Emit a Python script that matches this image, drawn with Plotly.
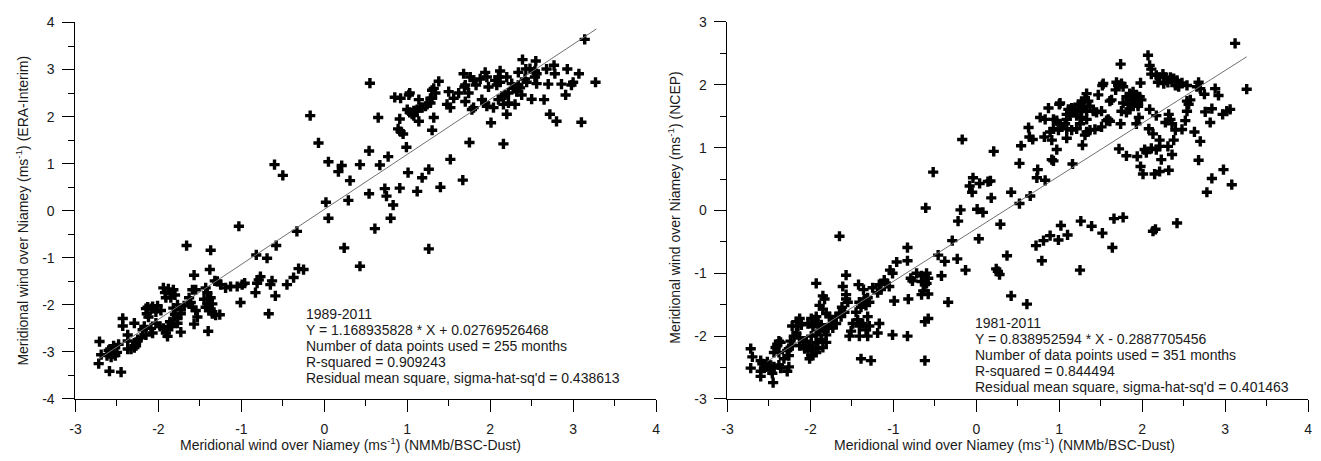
import plotly.graph_objects as go

W, H = 1321, 461

# Monthly meridional wind over Niamey: NMMb/BSC-Dust (x) vs ERA-Interim (y), 1989-2011
era_pairs = [
    (3.14, 3.64), (2.39, 3.21), (2.55, 3.18), (2.77, 3.09), (2.68, 3.01), (2.93, 3.01), (3.07, 2.91),
    (3.27, 2.73), (2.78, 2.91), (2.86, 2.69), (3.00, 2.73), (2.98, 2.67), (2.70, 2.69), (2.56, 2.70),
    (2.56, 2.91), (2.54, 2.97), (2.48, 3.02), (2.43, 3.01), (2.34, 2.94), (2.12, 2.97), (2.20, 2.84),
    (2.10, 2.84), (2.06, 2.77), (2.12, 2.73), (1.94, 2.94), (1.96, 2.84), (1.88, 2.80), (1.83, 2.67),
    (1.68, 2.91), (1.76, 2.84), (1.80, 2.77), (1.70, 2.67), (1.98, 2.63), (2.08, 2.67), (2.26, 2.70),
    (2.28, 2.60), (2.22, 2.50), (2.32, 2.53), (2.36, 2.61), (2.38, 2.46), (2.44, 2.73), (2.50, 2.37),
    (2.65, 2.36), (2.91, 2.46), (2.72, 2.05), (2.80, 1.90), (3.10, 1.88), (2.20, 2.05), (2.01, 1.87),
    (2.30, 2.26), (2.22, 2.29), (2.16, 2.26), (2.10, 2.36), (2.14, 2.43), (2.18, 2.46), (2.04, 2.19),
    (1.96, 2.22), (1.94, 2.29), (1.90, 2.36), (1.80, 2.19), (1.78, 2.15), (1.70, 2.32), (1.74, 2.50),
    (1.69, 2.63), (1.62, 2.50), (1.56, 2.39), (1.52, 2.19), (1.48, 2.26), (1.50, 2.53), (1.38, 2.75),
    (1.32, 2.60), (1.34, 2.50), (1.30, 2.39), (1.28, 2.29), (1.24, 2.26), (1.18, 2.19), (1.14, 2.36),
    (1.12, 2.15), (1.08, 2.12), (1.06, 2.05), (1.02, 2.46), (1.03, 2.09), (1.00, 2.15), (0.92, 2.39),
    (0.85, 2.41), (1.14, 1.90), (1.32, 1.98), (1.30, 1.71), (0.91, 1.95), (0.65, 1.98), (0.89, 1.74),
    (0.92, 1.68), (0.95, 1.63), (0.99, 1.35), (0.55, 2.71), (1.75, 1.45), (2.16, 1.42), (1.52, 1.09),
    (1.26, 0.88), (1.18, 0.70), (1.01, 0.81), (1.40, 0.50), (1.67, 0.65), (0.91, 0.48), (0.73, 0.47),
    (0.75, 0.31), (1.12, 0.41), (0.83, 0.12), (0.80, -0.16), (0.54, 0.36), (0.29, 0.22), (0.31, 0.64),
    (0.54, 1.27), (0.77, 1.15), (0.67, 0.97), (0.43, 0.98), (0.21, 0.96), (0.17, 0.83), (0.05, 1.04),
    (0.02, 0.18), (0.05, -0.16), (0.61, -0.38), (1.03, 2.50), (1.16, 2.19), (1.10, 2.12), (1.08, 2.02),
    (1.22, 2.22), (1.30, 2.56), (1.28, 2.39), (2.34, 2.67), (2.42, 2.80), (2.54, 2.84),
    (-0.17, 2.02), (-0.07, 1.44), (-0.60, 0.98), (-0.50, 0.75), (-1.03, -0.33), (0.24, -0.79),
    (1.26, -0.81), (0.43, -1.18),
    (-0.33, -0.44), (-0.58, -0.74), (-1.66, -0.74), (-1.37, -0.84), (-0.82, -0.94), (-0.69, -1.01),
    (-1.38, -1.25), (-1.57, -1.37), (-0.25, -1.25), (-0.31, -1.23), (-0.37, -1.42), (-0.45, -1.57),
    (-0.63, -1.49), (-0.65, -1.57), (-0.77, -1.40), (-0.79, -1.47), (-0.81, -1.54), (-0.96, -1.54),
    (-1.05, -1.61), (-0.99, -1.57), (-1.13, -1.61), (-1.19, -1.64), (-1.25, -1.57), (-1.29, -1.50),
    (-1.32, -1.49), (-0.83, -1.74), (-0.59, -1.81), (-1.01, -1.95), (-0.67, -2.19), (-1.43, -1.64),
    (-1.41, -1.74), (-1.37, -1.85), (-1.45, -1.88), (-1.41, -1.98), (-1.43, -2.05), (-1.39, -2.12),
    (-1.35, -2.19), (-1.31, -2.22), (-1.26, -2.21), (-1.35, -1.98), (-1.37, -2.09), (-1.40, -2.56),
    (-1.59, -1.68), (-1.55, -1.68), (-1.63, -1.85), (-1.61, -1.95), (-1.59, -2.05), (-1.55, -2.12),
    (-1.53, -2.26), (-1.57, -2.41), (-1.94, -1.64), (-1.88, -1.66), (-1.82, -1.68), (-1.92, -1.74),
    (-1.86, -1.76), (-1.80, -1.79), (-1.91, -1.85), (-1.85, -1.85), (-1.69, -2.02), (-1.73, -2.11),
    (-1.77, -2.00), (-1.82, -2.07), (-1.73, -2.19), (-1.80, -2.20), (-1.77, -2.29), (-1.82, -2.32),
    (-1.86, -2.36), (-1.88, -2.46), (-1.84, -2.46), (-1.77, -2.39), (-1.73, -2.58), (-1.91, -2.60),
    (-1.94, -2.50), (-1.89, -2.67), (-1.98, -2.46), (-2.13, -2.05), (-2.07, -2.04), (-2.01, -2.02),
    (-1.97, -2.12), (-2.03, -2.15), (-2.09, -2.08), (-2.14, -2.19), (-2.12, -2.26), (-2.15, -2.08),
    (-2.03, -2.39), (-2.09, -2.50), (-2.07, -2.60), (-2.15, -2.64), (-2.19, -2.53), (-2.21, -2.70),
    (-2.25, -2.74), (-2.27, -2.80), (-2.29, -2.91), (-2.33, -2.94), (-2.29, -2.39), (-2.17, -2.46),
    (-2.43, -2.29), (-2.43, -2.45), (-2.37, -2.64), (-2.37, -2.77), (-2.27, -2.87), (-2.37, -2.94),
    (-2.48, -2.84), (-2.54, -2.87), (-2.58, -2.94), (-2.56, -3.04), (-2.62, -3.08), (-2.50, -3.01),
    (-2.60, -2.97), (-2.71, -2.78), (-2.69, -3.06), (-2.72, -3.25), (-2.59, -3.41), (-2.45, -3.43),
    (-2.57, -3.11), (-2.52, -3.08),
]

# Monthly meridional wind over Niamey: NMMb/BSC-Dust (x) vs NCEP (y), 1981-2011
ncep_pairs = [
    (3.12, 2.66), (3.26, 1.93), (2.07, 2.47), (2.09, 2.31), (2.11, 2.25), (2.11, 2.17), (2.17, 2.15),
    (2.21, 2.12), (2.25, 2.17), (2.28, 2.12), (2.34, 2.12), (2.38, 2.10), (2.42, 2.07), (2.19, 2.04),
    (2.26, 2.02), (2.31, 2.04), (2.40, 1.99), (2.44, 1.97), (2.54, 1.99), (2.48, 2.03), (2.68, 2.04),
    (2.66, 1.97), (2.70, 1.94), (2.75, 1.85), (2.88, 1.94), (2.92, 1.83), (1.74, 2.33), (1.53, 2.02),
    (1.52, 1.99), (1.69, 2.04), (1.71, 1.99), (1.75, 2.02), (1.77, 1.97), (1.68, 1.92), (1.98, 2.03),
    (1.85, 1.86), (1.89, 1.89), (1.93, 1.84), (1.97, 1.81), (1.81, 1.81), (1.87, 1.76), (1.91, 1.74),
    (1.95, 1.69), (1.99, 1.76), (1.77, 1.71), (1.83, 1.69), (1.89, 1.66), (1.75, 1.58), (1.81, 1.56),
    (1.85, 1.61), (1.95, 1.66), (1.61, 1.74), (1.63, 1.76), (1.59, 1.45), (1.61, 1.42), (1.57, 1.43),
    (1.74, 1.38), (1.96, 1.48), (1.93, 1.38), (2.09, 1.61), (2.17, 1.51), (1.47, 1.84), (1.33, 1.86),
    (1.31, 1.79), (1.35, 1.74), (1.27, 1.71), (1.23, 1.69), (1.29, 1.63), (1.33, 1.58), (1.25, 1.58),
    (1.19, 1.61), (1.15, 1.63), (1.11, 1.61), (1.17, 1.56), (1.13, 1.51), (1.09, 1.53), (1.21, 1.51),
    (1.27, 1.48), (1.33, 1.45), (1.41, 1.58), (1.45, 1.56), (1.51, 1.58), (1.37, 1.66), (1.01, 1.71),
    (1.00, 1.69), (0.87, 1.63), (0.77, 1.48), (0.83, 1.45), (0.93, 1.45), (0.97, 1.43), (1.01, 1.38),
    (1.07, 1.38), (1.09, 1.45), (0.89, 1.25), (0.93, 1.30), (0.99, 1.28), (1.03, 1.33), (1.09, 1.30),
    (1.15, 1.28), (1.21, 1.30), (1.25, 1.38), (1.33, 1.25), (1.31, 1.20), (1.37, 1.28), (1.43, 1.29),
    (1.51, 1.33), (0.63, 1.32), (0.64, 1.17), (0.68, 1.13), (0.82, 1.17), (0.91, 1.12), (0.97, 0.97),
    (1.09, 1.15), (1.28, 1.04), (0.54, 1.03), (0.21, 0.94), (0.52, 0.75), (0.74, 0.65), (0.73, 0.52),
    (0.83, 0.48), (0.91, 0.81), (0.93, 0.79), (1.16, 0.74), (0.17, 0.47), (0.18, 0.20), (0.42, 0.29),
    (0.52, 0.11), (0.65, 0.23), (0.29, -0.22),
    (2.08, 1.30), (2.13, 1.22), (2.03, 0.97), (2.11, 0.99), (2.17, 0.97), (2.21, 1.02), (2.31, 1.02),
    (2.28, 1.40), (2.34, 1.45), (2.32, 1.53), (2.36, 1.38), (2.40, 1.28), (2.48, 1.29), (2.52, 1.43),
    (2.54, 1.58), (2.56, 1.69), (2.54, 1.74), (2.58, 1.76), (2.63, 1.25), (2.70, 1.10), (2.76, 1.57),
    (2.84, 1.62), (2.82, 1.40), (2.97, 1.53), (3.02, 1.58), (3.06, 1.61), (2.38, 1.12), (2.21, 1.12),
    (2.23, 0.81), (2.36, 0.89), (2.68, 0.80), (1.98, 0.70), (2.01, 0.58), (2.15, 0.58), (2.21, 0.62),
    (2.32, 0.64), (2.98, 0.65), (2.84, 0.51), (3.08, 0.41), (2.78, 0.29), (1.72, 0.98), (1.81, 0.87),
    (1.94, 0.86), (2.05, 0.92),
    (1.02, -0.24), (1.26, -0.17), (1.39, -0.25), (1.66, -0.13), (1.77, -0.11), (2.16, -0.30),
    (2.42, -0.20), (1.52, -0.36), (1.64, -0.59), (2.13, -0.33), (0.72, -0.56), (0.81, -0.48),
    (0.89, -0.40), (0.99, -0.47), (1.10, -0.39), (0.79, -0.80), (1.25, -0.95), (0.37, -0.72),
    (0.24, -0.93), (0.26, -0.97), (0.28, -1.02), (0.42, -1.36), (0.61, -1.49),
    (-0.17, 1.13), (-0.52, 0.61), (-0.04, 0.52), (-0.08, 0.39), (-0.05, 0.29), (0.04, 0.43),
    (0.14, 0.46), (-0.61, 0.04), (-0.19, 0.01), (0.01, 0.02), (0.08, -0.03), (-0.22, -0.17),
    (0.03, -0.45), (-0.29, -0.48), (-0.23, -0.77), (-0.46, -0.71), (-0.38, -0.81), (-0.13, -0.95),
    (-0.42, -1.04), (-0.34, -1.46), (-1.65, -0.41), (-0.83, -0.59), (-0.83, -0.80), (-0.96, -0.82),
    (-1.04, -0.95), (-1.01, -1.00), (-0.72, -1.00), (-0.66, -1.04), (-0.79, -1.08), (-0.77, -1.12),
    (-0.60, -1.00), (-0.58, -1.08), (-0.66, -1.13), (-0.62, -1.18), (-0.60, -1.16), (-0.64, -1.28),
    (-0.58, -1.33), (-0.66, -1.34), (-0.58, -1.72), (-0.62, -1.77), (-0.82, -1.41), (-0.99, -1.44),
    (-0.83, -2.00), (-1.01, -1.98), (-0.62, -2.39),
    (-1.11, -1.11), (-1.17, -1.18), (-1.15, -1.26), (-1.05, -1.21), (-1.09, -1.16), (-1.19, -1.31),
    (-1.25, -1.23), (-1.31, -1.39), (-1.35, -1.41), (-1.29, -1.46), (-1.41, -1.46), (-1.39, -1.54),
    (-1.45, -1.62), (-1.33, -1.51), (-1.42, -1.18), (-1.36, -1.26), (-1.57, -1.03), (-1.61, -1.21),
    (-1.57, -1.34), (-1.57, -1.41), (-1.55, -1.46), (-1.62, -1.54), (-1.59, -1.62), (-1.65, -1.64),
    (-1.69, -1.69), (-1.63, -1.69), (-1.17, -1.80), (-1.19, -1.95), (-1.31, -1.69), (-1.29, -1.84),
    (-1.33, -1.90), (-1.37, -1.80), (-1.41, -1.84), (-1.43, -1.74), (-1.49, -1.80), (-1.51, -1.92),
    (-1.53, -2.00), (-1.41, -2.00), (-1.31, -2.00), (-1.39, -2.36), (-1.27, -2.39),
    (-1.93, -1.16), (-1.85, -1.36), (-1.83, -1.41), (-1.89, -1.51), (-1.85, -1.57), (-1.93, -1.69),
    (-1.95, -1.74), (-1.99, -1.72), (-2.03, -1.80), (-1.97, -1.85), (-1.91, -1.80), (-1.87, -1.82),
    (-1.81, -1.64), (-1.77, -1.69), (-1.73, -1.74), (-1.75, -1.82), (-1.79, -1.87), (-1.83, -1.92),
    (-1.89, -1.92), (-1.93, -1.98), (-1.99, -2.00), (-2.05, -2.08), (-2.01, -2.15), (-1.93, -2.10),
    (-1.87, -2.05), (-1.81, -1.98), (-1.73, -1.87), (-1.69, -1.80), (-1.93, -2.26), (-1.97, -2.20),
    (-2.03, -2.23), (-1.81, -2.10), (-1.85, -2.18), (-1.91, -2.20),
    (-2.13, -1.72), (-2.17, -1.77), (-2.11, -1.82), (-2.15, -1.84), (-2.22, -1.84), (-2.17, -1.95),
    (-2.13, -2.03), (-2.09, -2.08), (-2.13, -2.15), (-2.07, -2.20), (-2.01, -2.36), (-1.99, -2.31),
    (-2.20, -2.00), (-2.24, -2.08), (-2.22, -2.15), (-2.26, -2.20),
    (-2.38, -2.08), (-2.40, -2.13), (-2.42, -2.18), (-2.36, -2.10), (-2.28, -2.23), (-2.26, -2.31),
    (-2.32, -2.36), (-2.38, -2.26), (-2.44, -2.26), (-2.26, -2.49), (-2.28, -2.56),
    (-2.72, -2.20), (-2.70, -2.33), (-2.72, -2.51), (-2.60, -2.39), (-2.58, -2.44), (-2.54, -2.49),
    (-2.50, -2.46), (-2.52, -2.41), (-2.60, -2.56), (-2.56, -2.51), (-2.48, -2.54), (-2.46, -2.59),
    (-2.44, -2.49), (-2.38, -2.46), (-2.36, -2.51), (-2.45, -2.74), (-2.60, -2.64),
]

# Least-squares fits and the x-span over which each fit line is drawn
era_slope, era_intercept = 1.168935828, 0.02769526468
ncep_slope, ncep_intercept = 0.838952594, -0.2887705456
era_fit_x = [-2.72, 3.28]
ncep_fit_x = [-2.52, 3.26]

# Tick positions and labels (plain hyphen-minus labels)
x_ticks = [-3, -2, -1, 0, 1, 2, 3, 4]
era_y_ticks = [-4, -3, -2, -1, 0, 1, 2, 3, 4]
ncep_y_ticks = [-3, -2, -1, 0, 1, 2, 3]

era_stats = [
    "1989-2011",
    "Y = 1.168935828 * X + 0.02769526468",
    "Number of data points used = 255 months",
    "R-squared = 0.909243",
    "Residual mean square, sigma-hat-sq'd = 0.438613",
]
ncep_stats = [
    "1981-2011",
    "Y = 0.838952594 * X - 0.2887705456",
    "Number of data points used = 351 months",
    "R-squared = 0.844494",
    "Residual mean square, sigma-hat-sq'd = 0.401463",
]

x_title = "Meridional wind over Niamey (ms<sup>-1</sup>) (NMMb/BSC-Dust)"
era_y_title = "Meridional wind over Niamey (ms<sup>-1</sup>) (ERA-Interim)"
ncep_y_title = "Meridional wind over Niamey (ms<sup>-1</sup>) (NCEP)"

FONT = "Liberation Sans, Arial, sans-serif"
TXT = "#1a1a1a"


def px_x(p):
    """Pixel column -> paper fraction."""
    return p / W


def px_y(p):
    """Pixel row (from top) -> paper fraction."""
    return 1 - p / H


fig = go.Figure()

for pairs, slope, icpt, fx, xa, ya in [
    (era_pairs, era_slope, era_intercept, era_fit_x, "x", "y"),
    (ncep_pairs, ncep_slope, ncep_intercept, ncep_fit_x, "x2", "y2"),
]:
    fig.add_trace(go.Scatter(
        x=[p[0] for p in pairs], y=[p[1] for p in pairs], mode="markers",
        marker=dict(symbol="cross", size=8.5, color="black", line=dict(width=0)),
        xaxis=xa, yaxis=ya, showlegend=False, cliponaxis=False,
    ))
    fig.add_trace(go.Scatter(
        x=fx, y=[slope * v + icpt for v in fx], mode="lines",
        line=dict(color="#707070", width=1), xaxis=xa, yaxis=ya, showlegend=False,
    ))


def axis(ticks, rng, domain, anchor, standoff):
    return dict(
        domain=domain, range=rng, anchor=anchor,
        tickmode="array", tickvals=ticks, ticktext=[str(t) for t in ticks],
        showgrid=False, zeroline=False, showline=True, linecolor="black", linewidth=1,
        ticks="outside", ticklen=12, tickwidth=1, tickcolor="black",
        ticklabelstandoff=standoff, ticklabeloverflow="allow",
        tickfont=dict(family=FONT, size=14, color=TXT),
        minor=dict(ticks="outside", ticklen=6, tickwidth=1, tickcolor="black",
                   tickmode="linear", tick0=0.5, dtick=1),
        fixedrange=True,
    )


fig.update_layout(
    width=W, height=H, margin=dict(l=0, r=0, t=0, b=0),
    paper_bgcolor="white", plot_bgcolor="white",
    xaxis=axis(x_ticks, [-3, 4], [px_x(70), px_x(655)], "y", 5),
    yaxis=axis(era_y_ticks, [-4, 4], [px_y(405), px_y(15)], "x", 5),
    xaxis2=axis(x_ticks, [-3, 4], [px_x(727), px_x(1312)], "y2", 5),
    yaxis2=axis(ncep_y_ticks, [-3, 3], [px_y(405), px_y(14.5)], "x2", 5),
)

annotations = []
for cx, cy, text in [(347, 452, x_title), (1006, 452, x_title)]:
    annotations.append(dict(x=px_x(cx), y=px_y(cy), xref="paper", yref="paper", text=text,
                            showarrow=False, xanchor="center", yanchor="middle",
                            font=dict(family=FONT, size=14, color=TXT)))
for cx, cy, text in [(16, 210, era_y_title), (673, 207, ncep_y_title)]:
    annotations.append(dict(x=px_x(cx), y=px_y(cy), xref="paper", yref="paper", text=text,
                            showarrow=False, xanchor="center", yanchor="middle", textangle=-90,
                            font=dict(family=FONT, size=14, color=TXT)))
for lx, top, lines in [(300, 316.7, era_stats), (974, 326.7, ncep_stats)]:
    for i, line in enumerate(lines):
        annotations.append(dict(x=px_x(lx), y=px_y(top + 16.6 * i), xref="paper", yref="paper",
                                text=line, showarrow=False, xanchor="left", yanchor="middle",
                                font=dict(family=FONT, size=14, color=TXT)))
fig.update_layout(annotations=annotations)

# The figure fills the page edge to edge, so drop the default body margin
fig.write_html(
    "out.html",
    post_script="document.body.style.margin='0';document.body.style.overflow='hidden';",
)
